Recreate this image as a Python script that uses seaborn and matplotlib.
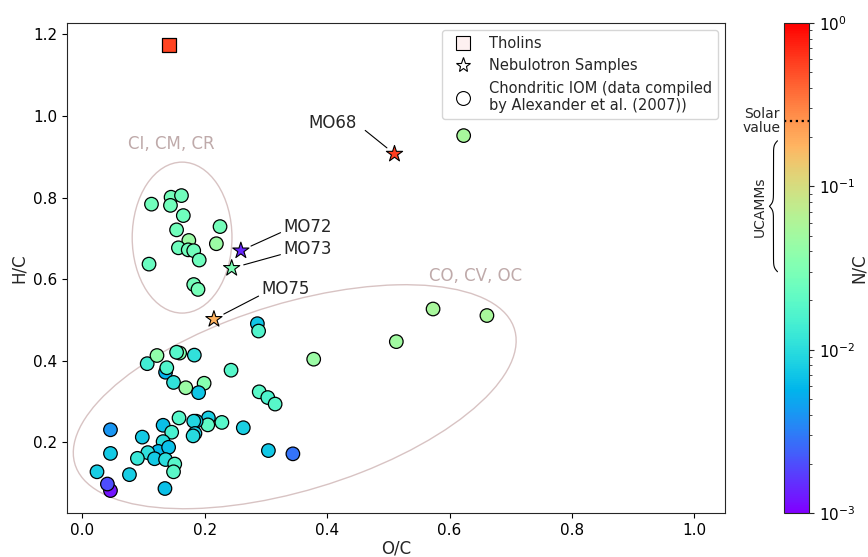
import numpy as np
import pandas as pd
import matplotlib.pyplot as plt
import seaborn as sns
from matplotlib.colors import LogNorm
from matplotlib.cm import ScalarMappable
from matplotlib.lines import Line2D
from matplotlib.patches import Ellipse

sns.set_style("ticks")
plt.rcParams['font.family'] = ['DejaVu Sans']

# Chondritic IOM, data compiled by Alexander et al. (2007)
iom_oc = [0.113, 0.145, 0.144, 0.162, 0.165, 0.154, 0.225, 0.219, 0.174, 0.157,
          0.173, 0.182, 0.191, 0.109, 0.182, 0.189,
          0.106, 0.122, 0.159, 0.154, 0.183, 0.136, 0.138, 0.149, 0.169, 0.199,
          0.190, 0.286, 0.288, 0.243, 0.378, 0.289, 0.303, 0.315, 0.263, 0.304,
          0.344, 0.158, 0.206, 0.205, 0.228, 0.186, 0.182, 0.184, 0.181, 0.046,
          0.098, 0.132, 0.146, 0.132, 0.124, 0.141, 0.046, 0.107, 0.090, 0.118,
          0.136, 0.151, 0.149, 0.024, 0.077, 0.046, 0.041, 0.135,
          0.513, 0.573, 0.661, 0.623]
iom_hc = [0.784, 0.801, 0.781, 0.805, 0.756, 0.721, 0.729, 0.687, 0.695, 0.677,
          0.672, 0.670, 0.647, 0.637, 0.587, 0.575,
          0.393, 0.413, 0.419, 0.421, 0.414, 0.372, 0.383, 0.347, 0.334, 0.345,
          0.322, 0.491, 0.473, 0.377, 0.404, 0.324, 0.310, 0.294, 0.236, 0.180,
          0.172, 0.260, 0.260, 0.243, 0.249, 0.252, 0.252, 0.222, 0.216, 0.231,
          0.213, 0.242, 0.225, 0.202, 0.178, 0.188, 0.173, 0.175, 0.161, 0.160,
          0.158, 0.147, 0.128, 0.128, 0.121, 0.082, 0.098, 0.087,
          0.447, 0.527, 0.511, 0.952]
iom_nc = [0.026, 0.027, 0.026, 0.026, 0.025, 0.026, 0.027, 0.045, 0.045, 0.025,
          0.026, 0.026, 0.025, 0.023, 0.027, 0.028,
          0.014, 0.040, 0.035, 0.018, 0.011, 0.0055, 0.017, 0.011, 0.045, 0.035,
          0.007, 0.007, 0.017, 0.018, 0.045, 0.019, 0.016, 0.018, 0.008, 0.0072,
          0.0028, 0.018, 0.008, 0.020, 0.018, 0.0075, 0.009, 0.008, 0.0095, 0.004,
          0.0075, 0.0065, 0.015, 0.010, 0.006, 0.0065, 0.0075, 0.0105, 0.012, 0.0075,
          0.010, 0.018, 0.019, 0.0078, 0.0078, 0.0012, 0.002, 0.0065,
          0.050, 0.055, 0.055, 0.055]

# Nebulotron samples
sample_names = ["MO68", "MO72", "MO73", "MO75"]
sample_oc = [0.510, 0.259, 0.244, 0.215]
sample_hc = [0.907, 0.670, 0.627, 0.502]
sample_nc = [0.57, 0.0014, 0.030, 0.18]

# Tholins
tholin_oc = [0.142]
tholin_hc = [1.174]
tholin_nc = [0.55]

solar_nc = 0.25
ucamm_nc = [0.03, 0.19]

iom = pd.DataFrame({"O/C": iom_oc, "H/C": iom_hc, "N/C": iom_nc})
samples = pd.DataFrame({"O/C": sample_oc, "H/C": sample_hc, "N/C": sample_nc})
tholins = pd.DataFrame({"O/C": tholin_oc, "H/C": tholin_hc, "N/C": tholin_nc})

norm = LogNorm(vmin=1e-3, vmax=1)
cmap = "rainbow"

fig = plt.figure(figsize=(8.68, 5.57), dpi=100)
ax = fig.add_axes([0.0772, 0.079, 0.7581, 0.8797])
cax = fig.add_axes([0.9032, 0.079, 0.0288, 0.8797])

# group ellipses
ell_col = '#d8c3c3'
txt_col = '#bfaaaa'
ax.add_patch(Ellipse((0.163, 0.702), 0.163, 0.37, angle=0, fill=False,
                     edgecolor=ell_col, lw=1))
ax.add_patch(Ellipse((0.347, 0.312), 0.80, 0.43, angle=30.4, fill=False,
                     edgecolor=ell_col, lw=1))
ax.text(0.146, 0.931, "CI, CM, CR", color=txt_col, fontsize=12,
        ha='center', va='center')
ax.text(0.643, 0.608, "CO, CV, OC", color=txt_col, fontsize=12,
        ha='center', va='center')

sns.scatterplot(data=iom, x="O/C", y="H/C", hue="N/C", hue_norm=norm,
                palette=cmap, marker='o', s=95, edgecolor='k', linewidth=0.9,
                legend=False, ax=ax, zorder=3)
sns.scatterplot(data=samples, x="O/C", y="H/C", hue="N/C", hue_norm=norm,
                palette=cmap, marker='*', s=150, edgecolor='k', linewidth=0.8,
                legend=False, ax=ax, zorder=4)
sns.scatterplot(data=tholins, x="O/C", y="H/C", hue="N/C", hue_norm=norm,
                palette=cmap, marker='s', s=105, edgecolor='k', linewidth=0.9,
                legend=False, ax=ax, zorder=4)

# sample labels
label_pos = {"MO68": ((0.448, 0.984), 'right', (1, 0.45), 8, 7),
             "MO72": ((0.328, 0.728), 'left', (0, 0.25), 2, 8),
             "MO73": ((0.328, 0.673), 'left', (0, 0.25), 2, 9),
             "MO75": ((0.292, 0.575), 'left', (0, 0.2), 2, 8)}
for name, oc, hc in zip(sample_names, sample_oc, sample_hc):
    pos, ha, rp, sa, sb = label_pos[name]
    ax.annotate(name, xy=(oc, hc), xytext=pos, fontsize=12, ha=ha, va='center',
                arrowprops=dict(arrowstyle='-', color='k', lw=0.8, relpos=rp,
                                shrinkA=sa, shrinkB=sb, patchA=None))

ax.set_xlim(-0.025, 1.05)
ax.set_ylim(0.027, 1.228)
ax.set_xticks([0.0, 0.2, 0.4, 0.6, 0.8, 1.0])
ax.set_yticks([0.2, 0.4, 0.6, 0.8, 1.0, 1.2])
ax.set_xlabel("O/C", fontsize=12, labelpad=1)
ax.set_ylabel("H/C", fontsize=12)
ax.tick_params(labelsize=11, colors='k', labelcolor='k')

handles = [
    Line2D([], [], ls='', marker='s', mfc='#fdf0f0', mec='k', ms=10, mew=0.8),
    Line2D([], [], ls='', marker='*', mfc='w', mec='k', ms=11, mew=0.8),
    Line2D([], [], ls='', marker='o', mfc='w', mec='k', ms=10, mew=0.8),
]
labels = ["Tholins", "Nebulotron Samples",
          "Chondritic IOM (data compiled\nby Alexander et al. (2007))"]
ax.legend(handles, labels, loc='upper right', fontsize=10.5, frameon=True)

# colorbar
cb = fig.colorbar(ScalarMappable(norm=norm, cmap=cmap), cax=cax)
cb.set_label("N/C", fontsize=12, labelpad=-4)
cax.tick_params(labelsize=11, labelcolor='k')
cax.axhline(solar_nc, color='k', ls=':', lw=1.6)
cax.text(-0.12, solar_nc, "Solar\nvalue", ha='right', va='center',
         fontsize=10, multialignment='center', linespacing=1.0)

# curly brace for UCAMMs range
t = np.linspace(0, 0.5, 150)
beta = 60
half = 1 / (1 + np.exp(-beta * (t - t[0]))) + 1 / (1 + np.exp(-beta * (t - t[-1])))
prof = np.concatenate([half, half[-2::-1]]) - 0.5
logy = np.linspace(np.log10(ucamm_nc[0]), np.log10(ucamm_nc[1]), len(prof))
cax.plot(-0.26 - 0.32 * prof, 10 ** logy, color='k', lw=0.8, clip_on=False)
cax.text(-0.98, np.sqrt(ucamm_nc[0] * ucamm_nc[1]), "UCAMMs", rotation=90,
         ha='center', va='center', fontsize=10)

fig.savefig("out.png", dpi=100)
